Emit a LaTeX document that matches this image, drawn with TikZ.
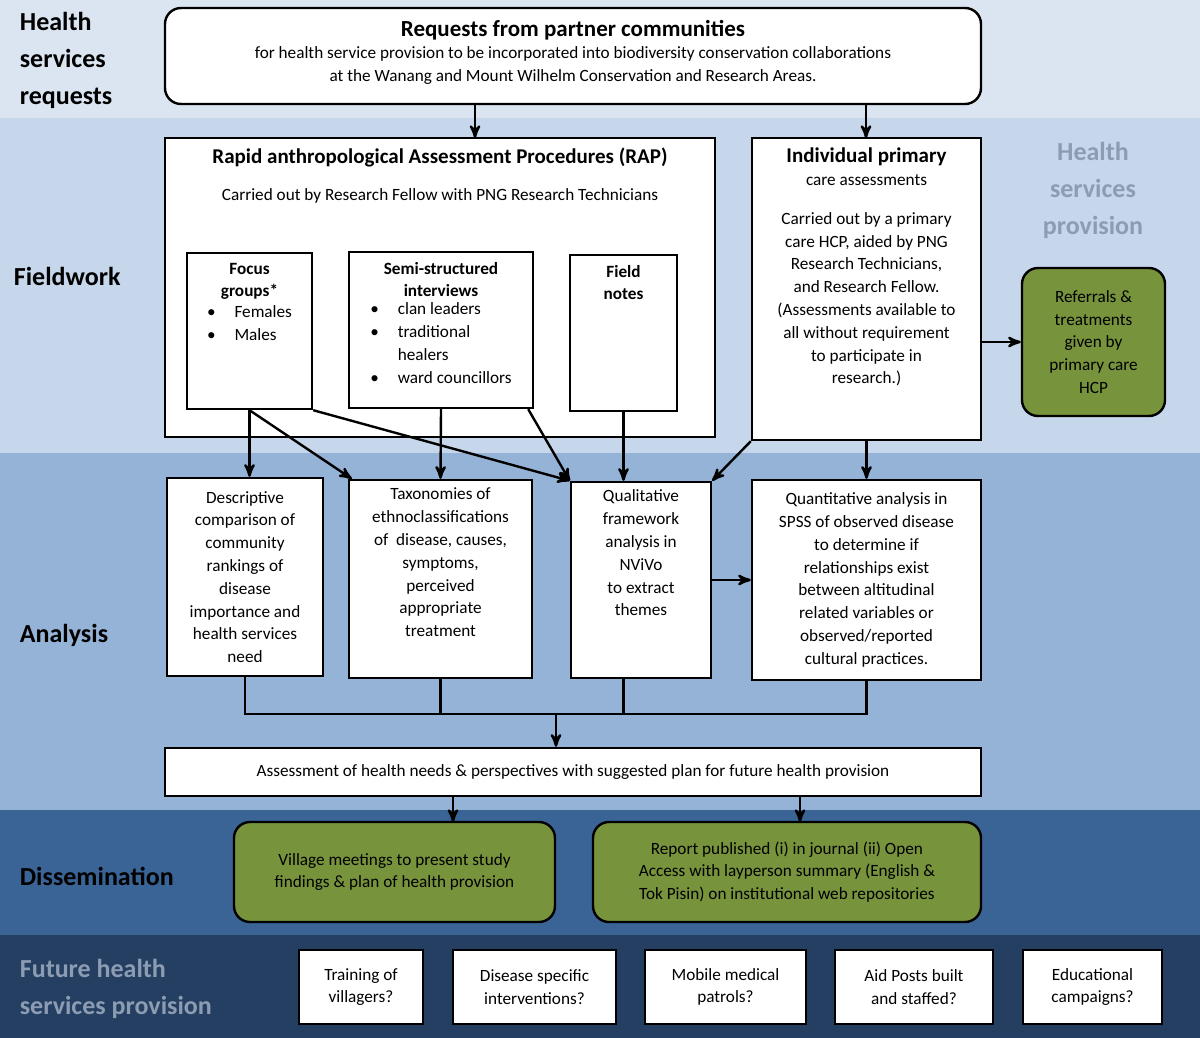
\documentclass[tikz,border=0pt]{standalone}
\usepackage{fontspec}
\setmainfont{Carlito}
\usetikzlibrary{arrows}
\usetikzlibrary{positioning}

\definecolor{bandA}{HTML}{DBE5F1}
\definecolor{bandB}{HTML}{C6D7EB}
\definecolor{bandC}{HTML}{95B3D7}
\definecolor{bandD}{HTML}{3A6496}
\definecolor{bandE}{HTML}{253F62}
\definecolor{leaf}{HTML}{77933C}
\definecolor{faded}{HTML}{8C9DB3}

\newcommand{\bodyfont}{\fontsize{8.6}{11.4}\selectfont}
\newcommand{\bl}[1]{\begin{tabular}{@{}l@{\hspace{1.1em}}l@{}}#1\end{tabular}}

\begin{document}
\begin{tikzpicture}[x=0.5pt,y=-0.5pt,->,>=stealth',line width=1.2pt,
	box/.style={draw,fill=white,align=center,inner sep=2pt,font=\bodyfont},
	green box/.style={box,fill=leaf,rounded corners=8pt},
	head/.style={anchor=north,align=center,inner sep=0pt,font=\bodyfont},
	band label/.style={anchor=west,align=left,font=\fontsize{13}{18.5}\selectfont\bfseries}]
	
	% bands
	\fill[bandA] (0,0) rectangle (1200,118);
	\fill[bandB] (0,118) rectangle (1200,453);
	\fill[bandC] (0,453) rectangle (1200,810);
	\fill[bandD] (0,810) rectangle (1200,935);
	\fill[bandE] (0,935) rectangle (1200,1038);
	
	\node[band label] (l1) at (12,60) {Health\\services\\requests};
	\node[band label] (l2) at (6,276) {Fieldwork};
	\node[band label] (l3) at (12,635) {Analysis};
	\node[band label] (l4) at (12,876) {Dissemination};
	\node[band label,text=faded] (l5) at (12,989) {Future health\\services provision};
	\node[band label,text=faded,align=center,anchor=center] (l6) at (1093,190) {Health\\services\\provision};
	
	\node[box,rounded corners=8pt,minimum width=408pt,minimum height=48pt] (req) at (573,56) {};
	\node[head] (reqt) at ([yshift=-6pt]req.north) {\fontsize{11.5}{14}\selectfont\bfseries Requests from partner communities\\
		\bodyfont\mdseries for health service provision to be incorporated into biodiversity conservation collaborations\\
		at the Wanang and Mount Wilhelm Conservation and Research Areas.};
	
	\node[box,minimum width=275pt,minimum height=149.5pt] (rap) at (440,287.5) {};
	\node[head] (rapt) at ([yshift=-5pt]rap.north) {\fontsize{10.5}{13}\selectfont\bfseries Rapid anthropological Assessment Procedures (RAP)\\[7pt]
		\bodyfont\mdseries Carried out by Research Fellow with PNG Research Technicians};
	\node[box,minimum width=114.5pt,minimum height=151pt] (ipc) at (866.5,289) {};
	\node[head] (ipct) at ([yshift=-5pt]ipc.north) {\fontsize{10.5}{14}\selectfont\bfseries Individual primary\\care assessments\\[8pt]
		\bodyfont\mdseries Carried out by a primary\\care HCP, aided by PNG\\Research Technicians,\\and Research Fellow.\\(Assessments available to\\all without requirement\\to participate in\\research.)};
	
	\node[box,minimum width=62.5pt,minimum height=78pt] (focus) at (249.5,331) {};
	\node[head] (focust) at ([yshift=-5pt]focus.north) {\textbf{Focus}\\\textbf{groups*}\\\bl{•&Females\\•&Males}};
	\node[box,minimum width=92pt,minimum height=78pt] (semi) at (441,330) {};
	\node[head] (semit) at ([yshift=-5pt]semi.north) {\textbf{Semi-structured}\\\textbf{interviews}\\\bl{•&clan leaders\\•&traditional\\&healers\\•&ward councillors}};
	\node[box,minimum width=53.5pt,minimum height=78pt] (field) at (623.5,333) {};
	\node[head] (fieldt) at ([yshift=-5pt]field.north) {\textbf{Field}\\\textbf{notes}};
	
	\node[green box,minimum width=71.5pt,minimum height=74pt] (ref) at (1093.5,342) {Referrals \&\\treatments\\given by\\primary care\\HCP};
	
	\node[box,minimum width=78pt,minimum height=99pt] (desc) at (245,577) {Descriptive\\comparison of\\community\\rankings of\\disease\\importance and\\health services\\need};
	\node[box,minimum width=91.5pt,minimum height=99pt] (tax) at (440.5,579) {};
	\node[head] (taxt) at ([yshift=-4pt]tax.north) {Taxonomies of\\ethnoclassifications\\of\ \ disease, causes,\\symptoms,\\perceived\\appropriate\\treatment};
	\node[box,minimum width=70pt,minimum height=98pt] (qual) at (641,580) {};
	\node[head] (qualt) at ([yshift=-4pt]qual.north) {Qualitative\\framework\\analysis in\\NViVo\\to extract\\themes};
	\node[box,minimum width=114.5pt,minimum height=100pt] (quant) at (866.5,580) {Quantitative analysis in\\SPSS of observed disease\\to determine if\\relationships exist\\between altitudinal\\related variables or\\observed/reported\\cultural practices.};
	
	\node[box,minimum width=408pt,minimum height=24pt] (assess) at (573,772) {Assessment of health needs \& perspectives with suggested plan for future health provision};
	\node[green box,minimum width=160.5pt,minimum height=50pt] (village) at (394.5,872) {Village meetings to present study\\findings \& plan of health provision};
	\node[green box,minimum width=194pt,minimum height=50pt] (report) at (787,872) {Report published (i) in journal (ii) Open\\Access with layperson summary (English \&\\Tok Pisin) on institutional web repositories};
	
	\node[box,minimum width=62pt,minimum height=37pt] (f1) at (361,987) {Training of\\villagers?};
	\node[box,minimum width=81.5pt,minimum height=37pt] (f2) at (534.5,987) {Disease specific\\interventions?};
	\node[box,minimum width=80.5pt,minimum height=37pt] (f3) at (725.5,987) {Mobile medical\\patrols?};
	\node[box,minimum width=79pt,minimum height=37pt] (f4) at (914,987) {Aid Posts built\\and staffed?};
	\node[box,minimum width=69.5pt,minimum height=37pt] (f5) at (1092.5,987) {Educational\\campaigns?};
	
	\coordinate (ra) at (475,138);
	\coordinate (rb) at (866,138);
	\coordinate (merge) at (556,714);
	\coordinate (va) at (453,822);
	\coordinate (vb) at (800,822);
	
	\draw (req.south -| ra) -- (ra);
	\draw (req.south -| rb) -- (rb);
	\draw (ipc.east |- ref) -- (ref.west);
	\draw (focus.south) -- (desc.north -| focus.south);
	\draw (focus.south) -- ([xshift=2pt]tax.north west);
	\draw (focus.south east) -- (qual.north west);
	\draw (semi.south) -- (tax.north);
	\draw ([xshift=-3pt]semi.south east) -- (qual.north west);
	\draw (field.south) -- (qual.north -| field.south);
	\draw (ipc.south west) -- (qual.north east);
	\draw (ipc.south) -- (quant.north);
	\draw (qual.east) -- (quant.west |- qual.east);
	\draw[-] (desc.south) |- (merge) -| (quant.south);
	\draw[-] (tax.south) -- (tax.south |- merge);
	\draw[-] (qual.south -| field.south) -- (field.south |- merge);
	\draw (merge) -- (assess.north -| merge);
	\draw (assess.south -| va) -- (va);
	\draw (assess.south -| vb) -- (vb);
\end{tikzpicture}
\end{document}
